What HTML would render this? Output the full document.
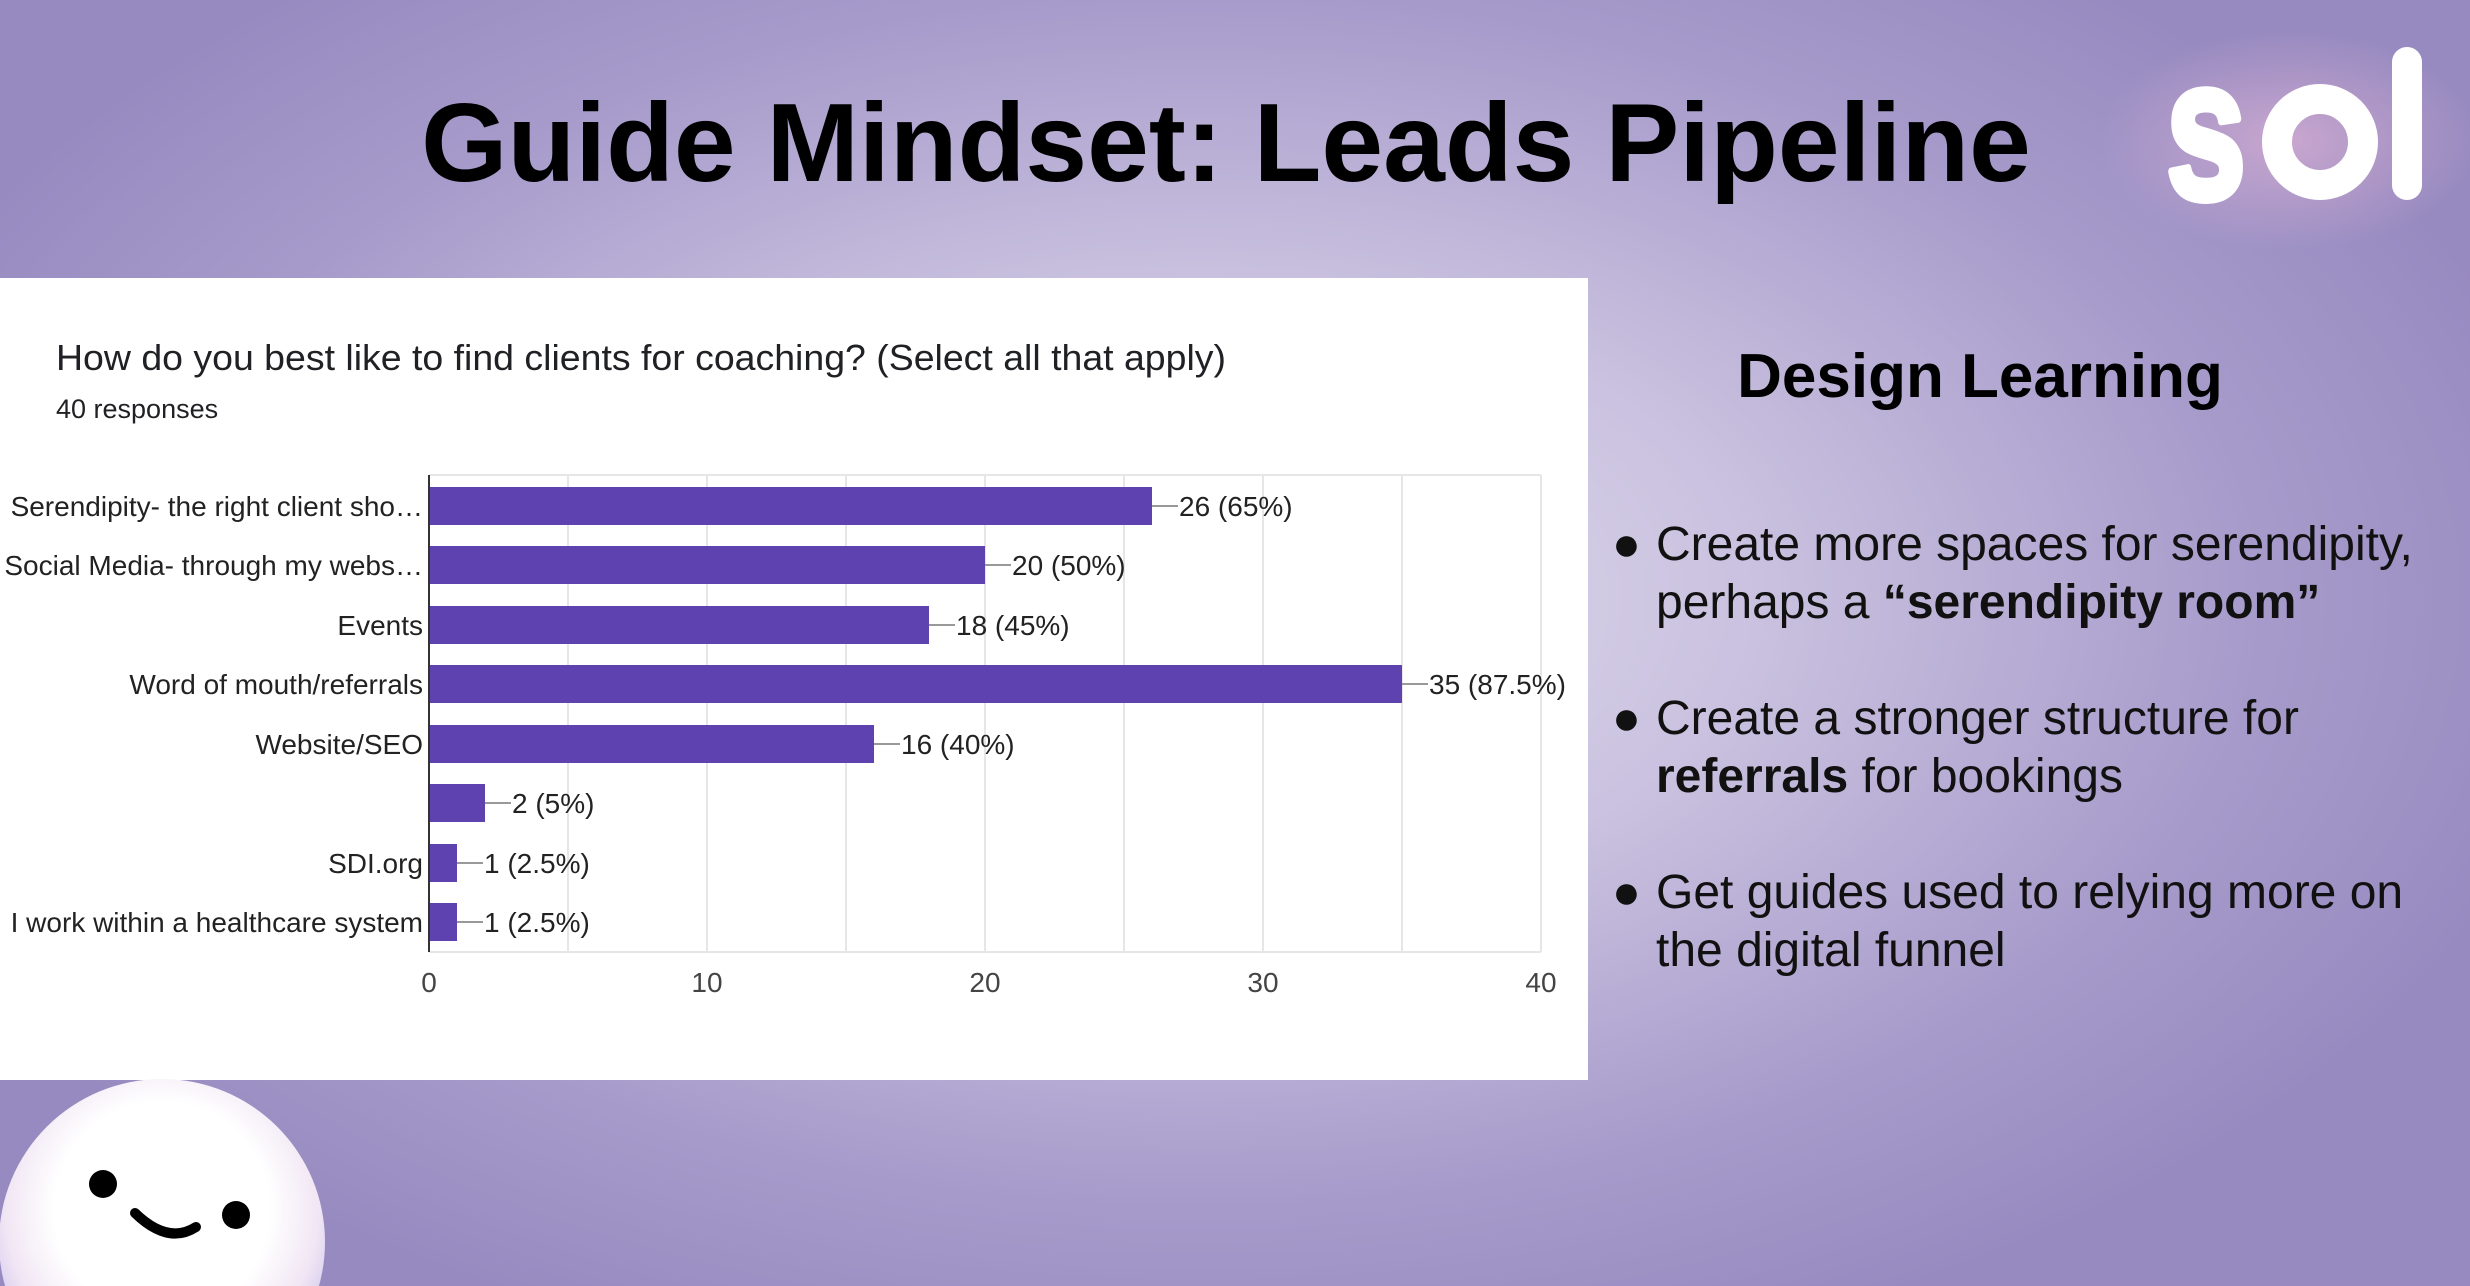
<!DOCTYPE html>
<html><head><meta charset="utf-8"><style>
html,body{margin:0;padding:0;width:2470px;height:1286px;overflow:hidden}
body{position:relative;font-family:"Liberation Sans",sans-serif;
background:radial-gradient(ellipse 1400px 800px at 1200px 600px,#e4e0ee 0%,#c9c1df 40%,#a79bcb 75%,#978ac0 100%);}
.t{position:absolute;white-space:nowrap}
</style></head><body>
<div class="t" style="left:0;width:2452px;text-align:center;top:79px;font-size:111px;font-weight:bold;color:#000">Guide Mindset: Leads Pipeline</div>

<svg style="position:absolute;left:0;top:0" width="2470" height="1286">
<defs>
<radialGradient id="glow" cx="0.5" cy="0.5" r="0.5"><stop offset="0" stop-color="#e8b8d8" stop-opacity="0.6"/><stop offset="1" stop-color="#e8b8d8" stop-opacity="0"/></radialGradient>
<radialGradient id="face" cx="0.5" cy="0.4" r="0.6"><stop offset="0.55" stop-color="#fff"/><stop offset="0.8" stop-color="#f1e6f4"/><stop offset="1" stop-color="#c8c0ec"/></radialGradient>
</defs>
<ellipse cx="2290" cy="140" rx="190" ry="110" fill="url(#glow)"/>
<text x="2166" y="198" font-family="Liberation Sans" font-weight="bold" font-size="200" fill="#fff" stroke="#fff" stroke-width="8" stroke-linejoin="round" textLength="80" lengthAdjust="spacingAndGlyphs">s</text>
<circle cx="2320" cy="142" r="43" fill="none" stroke="#fff" stroke-width="30"/>
<rect x="2392" y="47" width="30" height="153" rx="15" fill="#fff"/>

<rect x="0" y="278" width="1588" height="802" fill="#fff"/>
<circle cx="162" cy="1242" r="163" fill="url(#face)"/>
<circle cx="103" cy="1184" r="14" fill="#000"/>
<circle cx="236" cy="1215" r="14" fill="#000"/>
<path d="M135 1213 Q168 1245 196 1227" fill="none" stroke="#000" stroke-width="10" stroke-linecap="round"/>

<text x="56" y="370" font-size="36" fill="#202124" font-family="Liberation Sans" textLength="1170" lengthAdjust="spacingAndGlyphs">How do you best like to find clients for coaching? (Select all that apply)</text>
<text x="56" y="418" font-size="27" fill="#202124" font-family="Liberation Sans">40 responses</text>

<g stroke="#e6e6e6" stroke-width="2">
<line x1="429" y1="475" x2="1541" y2="475"/>
<line x1="1541" y1="475" x2="1541" y2="952"/>
<line x1="429" y1="952" x2="1541" y2="952"/>
<line x1="568" y1="475" x2="568" y2="952"/><line x1="707" y1="475" x2="707" y2="952"/>
<line x1="846" y1="475" x2="846" y2="952"/><line x1="985" y1="475" x2="985" y2="952"/>
<line x1="1124" y1="475" x2="1124" y2="952"/><line x1="1263" y1="475" x2="1263" y2="952"/>
<line x1="1402" y1="475" x2="1402" y2="952"/>
</g>
<g fill="#5e42b0">
<rect x="429" y="487" width="723" height="38"/>
<rect x="429" y="546" width="556" height="38"/>
<rect x="429" y="606" width="500" height="38"/>
<rect x="429" y="665" width="973" height="38"/>
<rect x="429" y="725" width="445" height="38"/>
<rect x="429" y="784" width="56" height="38"/>
<rect x="429" y="844" width="28" height="38"/>
<rect x="429" y="903" width="28" height="38"/>
</g>
<line x1="429" y1="475" x2="429" y2="952" stroke="#333" stroke-width="2"/>
<g stroke="#999" stroke-width="2">
<line x1="1152" y1="506" x2="1178" y2="506"/><line x1="985" y1="565" x2="1011" y2="565"/>
<line x1="929" y1="625" x2="955" y2="625"/><line x1="1402" y1="684" x2="1428" y2="684"/>
<line x1="874" y1="744" x2="900" y2="744"/><line x1="485" y1="803" x2="511" y2="803"/>
<line x1="457" y1="863" x2="483" y2="863"/><line x1="457" y1="922" x2="483" y2="922"/>
</g>
<g font-family="Liberation Sans" font-size="28" fill="#222">
<text x="1179" y="516">26 (65%)</text><text x="1012" y="575">20 (50%)</text>
<text x="956" y="635">18 (45%)</text><text x="1429" y="694">35 (87.5%)</text>
<text x="901" y="754">16 (40%)</text><text x="512" y="813">2 (5%)</text>
<text x="484" y="873">1 (2.5%)</text><text x="484" y="932">1 (2.5%)</text>
</g>
<g font-family="Liberation Sans" font-size="28" fill="#222" text-anchor="end">
<text x="423" y="516">Serendipity- the right client sho…</text>
<text x="423" y="575">Social Media- through my webs…</text>
<text x="423" y="635">Events</text>
<text x="423" y="694">Word of mouth/referrals</text>
<text x="423" y="754">Website/SEO</text>
<text x="423" y="873">SDI.org</text>
<text x="423" y="932">I work within a healthcare system</text>
</g>
<g font-family="Liberation Sans" font-size="28" fill="#444" text-anchor="middle">
<text x="429" y="992">0</text><text x="707" y="992">10</text><text x="985" y="992">20</text>
<text x="1263" y="992">30</text><text x="1541" y="992">40</text>
</g>
</svg>

<div class="t" style="left:1980px;transform:translateX(-50%);top:341px;font-size:62px;font-weight:bold">Design Learning</div>
<div style="position:absolute;left:1612px;top:0;width:850px;height:1100px;font-size:48px;color:#111;line-height:58px">
<div class="t" style="top:516px;left:0">●</div>
<div class="t" style="top:516px;left:44px">Create more spaces for serendipity,<br>perhaps a <b>“serendipity room”</b></div>
<div class="t" style="top:690px;left:0">●</div>
<div class="t" style="top:690px;left:44px">Create a stronger structure for<br><b>referrals</b> for bookings</div>
<div class="t" style="top:864px;left:0">●</div>
<div class="t" style="top:864px;left:44px">Get guides used to relying more on<br>the digital funnel</div>
</div>
</body></html>
